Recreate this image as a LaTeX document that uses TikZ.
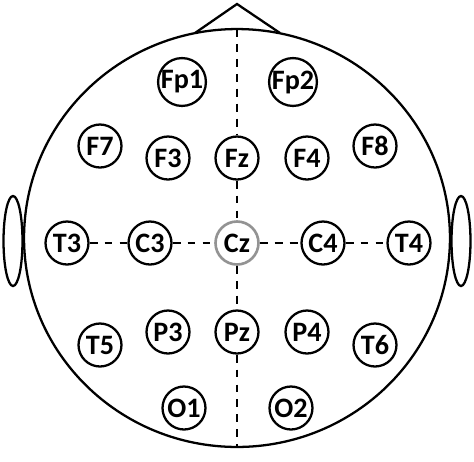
\documentclass[tikz,border=0pt]{standalone}
\usepackage{fontspec}
\setmainfont{Carlito}

\begin{document}
\begin{tikzpicture}[x=0.02cm, y=-0.02cm, line width=1.3pt,
	electrode/.style={draw, circle, minimum size=0.86cm, inner sep=0pt,
		font=\fontsize{16}{19}\selectfont\bfseries},
	reference/.style={electrode, draw=gray!85, line width=1.5pt},
	midline/.style={line width=1.5pt, dash pattern=on 4.5pt off 4pt}]
	\useasboundingbox (0,0) rectangle (474,461);

	% head, nose and ears
	\draw (237,238) ellipse [x radius=4.26cm, y radius=4.18cm];
	\draw (195,33) -- (237,4) -- (280,33);
	\draw (13,241) ellipse [x radius=0.19cm, y radius=0.9cm];
	\draw (461,241) ellipse [x radius=0.19cm, y radius=0.9cm];

	\coordinate (nasion) at (237,29);
	\coordinate (inion) at (237,447);

	% electrodes
	\node[electrode] (Fp1) at (182,82) {Fp1};
	\node[electrode] (Fp2) at (293,82) {Fp2};

	\node[electrode] (F7) at (100,146) {F7};
	\node[electrode] (F3) at (168,158) {F3};
	\node[electrode] (Fz) at (237,158) {Fz};
	\node[electrode] (F4) at (307,158) {F4};
	\node[electrode] (F8) at (375,146) {F8};

	\node[electrode] (T3) at (67,243) {T3};
	\node[electrode] (C3) at (150,243) {C3};
	\node[reference] (Cz) at (237,243) {Cz};
	\node[electrode] (C4) at (323,243) {C4};
	\node[electrode] (T4) at (409,243) {T4};

	\node[electrode] (T5) at (100,345) {T5};
	\node[electrode] (P3) at (168,332) {P3};
	\node[electrode] (Pz) at (237,332) {Pz};
	\node[electrode] (P4) at (307,332) {P4};
	\node[electrode] (T6) at (375,345) {T6};

	\node[electrode] (O1) at (184,408) {O1};
	\node[electrode] (O2) at (291,408) {O2};

	% midlines
	\draw[midline] (nasion) -- (Fz);
	\draw[midline] (Fz) -- (Cz);
	\draw[midline] (Cz) -- (Pz);
	\draw[midline] (Pz) -- (inion);

	\draw[midline] (T3) -- (C3);
	\draw[midline] (C3) -- (Cz);
	\draw[midline] (Cz) -- (C4);
	\draw[midline] (C4) -- (T4);

\end{tikzpicture}
\end{document}
